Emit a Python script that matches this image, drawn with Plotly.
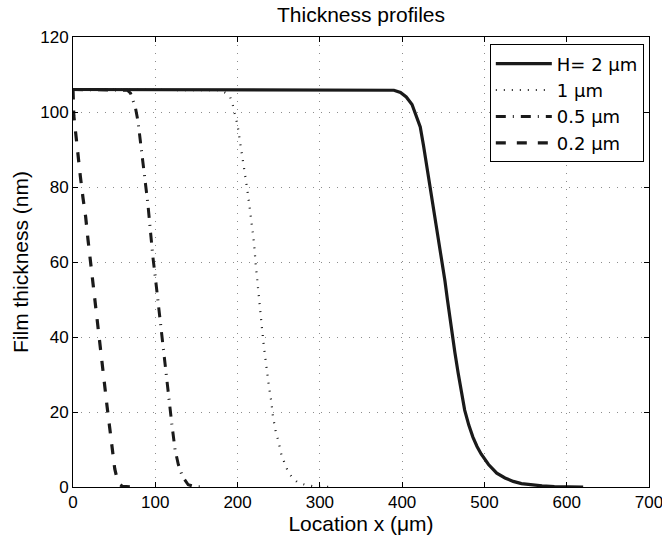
import plotly.graph_objects as go

# H = 2 um (solid)
x_h2 = [0, 380, 390, 398, 405, 412, 418, 422, 426, 430, 434, 438, 442, 446, 449, 452, 455, 458, 461, 464, 468, 472, 476, 481, 486, 491, 496, 505, 515, 525, 535, 545, 555, 570, 585, 600, 620]
y_h2 = [106, 106, 105.8, 105.2, 104, 102, 98.5, 96, 91, 85.5, 80.5, 75.5, 70, 64.5, 60, 55, 50, 45, 40.5, 36, 30.5, 25.5, 20.5, 16.5, 13.3, 10.8, 8.8, 6, 3.7, 2.4, 1.5, 0.9, 0.6, 0.3, 0.1, 0.03, 0]

# H = 1 um (dotted)
x_h1 = [0, 170, 180, 186, 191, 194, 197, 200, 203, 206, 209, 212, 215, 218, 220, 222, 223, 225, 227, 229, 232, 235, 238, 241, 243, 246.6, 249.4, 253.5, 256.7, 260.8, 265.7, 272.5, 282, 292, 305, 315]
y_h1 = [106, 106, 105.8, 105, 104, 102, 99, 96.5, 92, 88, 83.5, 79, 74, 69, 65, 59.5, 57, 52.5, 48, 43.8, 37.4, 31.5, 27, 22.8, 18.8, 14.5, 12.4, 8.4, 6.4, 4.4, 2.7, 1.3, 0.6, 0.2, 0.05, 0]

# H = 0.5 um (dash-dot)
x_h05 = [0, 60, 66, 70, 73, 76, 79, 82, 85, 88, 91, 94, 97, 100, 103, 106, 109.5, 113, 116, 120, 124, 128, 133, 140, 148, 160]
y_h05 = [106, 106, 105.8, 105, 103, 101, 97.5, 91.5, 85.5, 81, 75.5, 68, 61.5, 56, 50, 43.5, 37.4, 30.4, 24.5, 17, 10, 6, 2.8, 0.6, 0.1, 0]

# H = 0.2 um (dashed)
x_h02 = [0, 1, 3.3, 6, 9, 12.2, 15.4, 18.2, 21, 23, 26.4, 29.7, 32.5, 35.3, 38.6, 41.4, 44.6, 47.9, 50.7, 53.5, 56, 60, 70]
y_h02 = [106, 99, 94.3, 88, 82.7, 77, 72, 66, 60.5, 56, 49.5, 43.7, 38.4, 32.6, 27, 21.5, 15.8, 9.9, 4.9, 2.2, 0.8, 0.2, 0]

names = ["H= 2 μm", "1 μm", "0.5 μm", "0.2 μm"]
x_ticks = [0, 100, 200, 300, 400, 500, 600, 700]
y_ticks = [0, 20, 40, 60, 80, 100, 120]

FONT = "Liberation Sans, Arial, Helvetica, sans-serif"

fig = go.Figure()
fig.add_trace(go.Scatter(x=x_h2, y=y_h2, mode="lines", name=names[0],
                         line=dict(color="#1a1a1a", width=3.2)))
fig.add_trace(go.Scatter(x=x_h1, y=y_h1, mode="lines", name=names[1],
                         line=dict(color="#1a1a1a", width=2.2, dash="1px,7px")))
fig.add_trace(go.Scatter(x=x_h05, y=y_h05, mode="lines", name=names[2],
                         line=dict(color="#1a1a1a", width=3, dash="10px,7px,1px,7px")))
fig.add_trace(go.Scatter(x=x_h02, y=y_h02, mode="lines", name=names[3],
                         line=dict(color="#1a1a1a", width=3.2, dash="10px,11px")))

axis_common = dict(
    showline=True, linecolor="black", linewidth=1, mirror="allticks",
    ticks="inside", ticklen=5, tickcolor="black", tickwidth=1,
    showgrid=True, gridcolor="#8c8c8c", gridwidth=1, griddash="1px,7px",
    zeroline=False, tickfont=dict(family=FONT, size=17, color="black"),
    automargin=False, ticklabeloverflow="allow",
)

fig.update_layout(
    width=662, height=544,
    margin=dict(l=73, r=13, t=37, b=57),
    paper_bgcolor="white", plot_bgcolor="white",
    title=dict(text="Thickness profiles", x=0.5, xref="paper", xanchor="center",
               y=1 - 15 / 544, yref="container", yanchor="middle",
               font=dict(family=FONT, size=21, color="black")),
    xaxis=dict(range=[0, 700], tickvals=x_ticks, ticktext=[str(v) for v in x_ticks],
               title=dict(text="Location x (μm)", font=dict(family=FONT, size=21, color="black"),
                          standoff=4),
               **axis_common),
    yaxis=dict(range=[0, 120], tickvals=y_ticks, ticktext=[str(v) for v in y_ticks],
               **axis_common),
    legend=dict(x=0.991, y=0.9836, xanchor="right", yanchor="top",
                bgcolor="white", bordercolor="black", borderwidth=1,
                font=dict(family="DejaVu Sans, sans-serif", size=18, color="black"),
                tracegroupgap=0, itemwidth=56),
    showlegend=True,
    annotations=[dict(text="Film thickness (nm)", textangle=-90,
                      xref="paper", yref="paper", x=-(73 - 20) / 576, y=0.5,
                      xanchor="center", yanchor="middle", showarrow=False,
                      font=dict(family=FONT, size=21, color="black"))],
)

fig.write_html("out.html", config={"displayModeBar": False},
               post_script="document.body.style.margin='0';document.body.style.overflow='hidden';")
